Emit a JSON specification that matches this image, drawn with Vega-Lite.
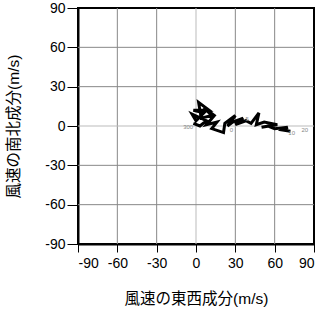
{
  "$schema": "https://vega.github.io/schema/vega-lite/v6.json",
  "width": 236,
  "height": 236,
  "autosize": {"type": "none"},
  "padding": {"left": 78, "top": 8, "right": 9, "bottom": 69},
  "background": "white",
  "config": {
    "view": {"stroke": "black", "strokeWidth": 2},
    "font": "Liberation Sans, Noto Sans CJK JP",
    "axis": {
      "domainColor": "black",
      "domainWidth": 2,
      "tickColor": "black",
      "tickWidth": 1,
      "labelColor": "black",
      "titleColor": "black",
      "labelFont": "Liberation Sans",
      "titleFont": "Liberation Sans, Noto Sans CJK JP",
      "labelFontSize": 14,
      "titleFontSize": 15.5,
      "titleFontWeight": "normal",
      "labelOverlap": false,
      "labelExpr": "datum.value + ''",
      "grid": false
    }
  },
  "datasets": {
    "path": [
      {"i": 1, "u": 72, "v": -4},
      {"i": 2, "u": 66, "v": -3},
      {"i": 3, "u": 70, "v": -1},
      {"i": 4, "u": 60, "v": -2},
      {"i": 5, "u": 55, "v": 0},
      {"i": 6, "u": 50, "v": -1},
      {"i": 7, "u": 62, "v": 1},
      {"i": 8, "u": 52, "v": 3},
      {"i": 9, "u": 46, "v": 1},
      {"i": 10, "u": 48, "v": 10},
      {"i": 11, "u": 42, "v": 2},
      {"i": 12, "u": 38, "v": 4},
      {"i": 13, "u": 30, "v": 1},
      {"i": 14, "u": 36, "v": 6},
      {"i": 15, "u": 28, "v": 3},
      {"i": 16, "u": 24, "v": 0},
      {"i": 17, "u": 30, "v": 8},
      {"i": 18, "u": 22, "v": 2},
      {"i": 19, "u": 21, "v": -5},
      {"i": 20, "u": 12, "v": -2},
      {"i": 21, "u": 16, "v": 3},
      {"i": 22, "u": 8, "v": 1},
      {"i": 23, "u": 14, "v": 8},
      {"i": 24, "u": 6, "v": 14},
      {"i": 25, "u": 12, "v": 8},
      {"i": 26, "u": 4, "v": 6},
      {"i": 27, "u": 2, "v": 18},
      {"i": 28, "u": 10, "v": 12},
      {"i": 29, "u": -2, "v": 12},
      {"i": 30, "u": 6, "v": 10},
      {"i": 31, "u": 0, "v": 4},
      {"i": 32, "u": -3, "v": 9},
      {"i": 33, "u": 8, "v": 4},
      {"i": 34, "u": 3, "v": 0},
      {"i": 35, "u": -2, "v": 2}
    ],
    "labels": [
      {"u": -6, "v": -1, "t": "300"},
      {"u": 73, "v": -5, "t": "10"},
      {"u": 83, "v": -3, "t": "20"},
      {"u": 39, "v": 5, "t": "5"},
      {"u": 27, "v": -3, "t": "0"}
    ],
    "grid": [
      {"g": -60, "c": "major"},
      {"g": -30, "c": "major"},
      {"g": 30, "c": "major"},
      {"g": 60, "c": "major"},
      {"g": 0, "c": "zero"}
    ]
  },
  "layer": [
    {
      "data": {"name": "grid"},
      "mark": {"type": "rule", "strokeWidth": 1},
      "encoding": {
        "x": {
          "field": "g", "type": "quantitative",
          "scale": {"domain": [-90, 90], "nice": false, "zero": false},
          "axis": {"values": [-90, -60, -30, 0, 30, 60, 90], "tickCount": 7, "title": "風速の東西成分(m/s)", "tickSize": 8, "labelPadding": 4, "titlePadding": 21}
        },
        "color": {"field": "c", "type": "nominal", "scale": {"domain": ["major", "zero"], "range": ["#888888", "#bbbbbb"]}, "legend": null}
      }
    },
    {
      "data": {"name": "grid"},
      "mark": {"type": "rule", "strokeWidth": 1},
      "encoding": {
        "y": {
          "field": "g", "type": "quantitative",
          "scale": {"domain": [-90, 90], "nice": false, "zero": false},
          "axis": {"values": [-90, -60, -30, 0, 30, 60, 90], "tickCount": 7, "title": "風速の南北成分(m/s)", "tickSize": 11, "labelPadding": 2, "titlePadding": 23}
        },
        "color": {"field": "c", "type": "nominal", "legend": null}
      }
    },
    {
      "data": {"name": "path"},
      "mark": {"type": "line", "color": "black", "strokeWidth": 3, "clip": true},
      "encoding": {
        "x": {"field": "u", "type": "quantitative"},
        "y": {"field": "v", "type": "quantitative"},
        "order": {"field": "i", "type": "quantitative"}
      }
    },
    {
      "data": {"name": "labels"},
      "mark": {"type": "text", "fontSize": 6, "color": "#888888", "font": "Liberation Sans"},
      "encoding": {
        "x": {"field": "u", "type": "quantitative"},
        "y": {"field": "v", "type": "quantitative"},
        "text": {"field": "t"}
      }
    }
  ]
}
